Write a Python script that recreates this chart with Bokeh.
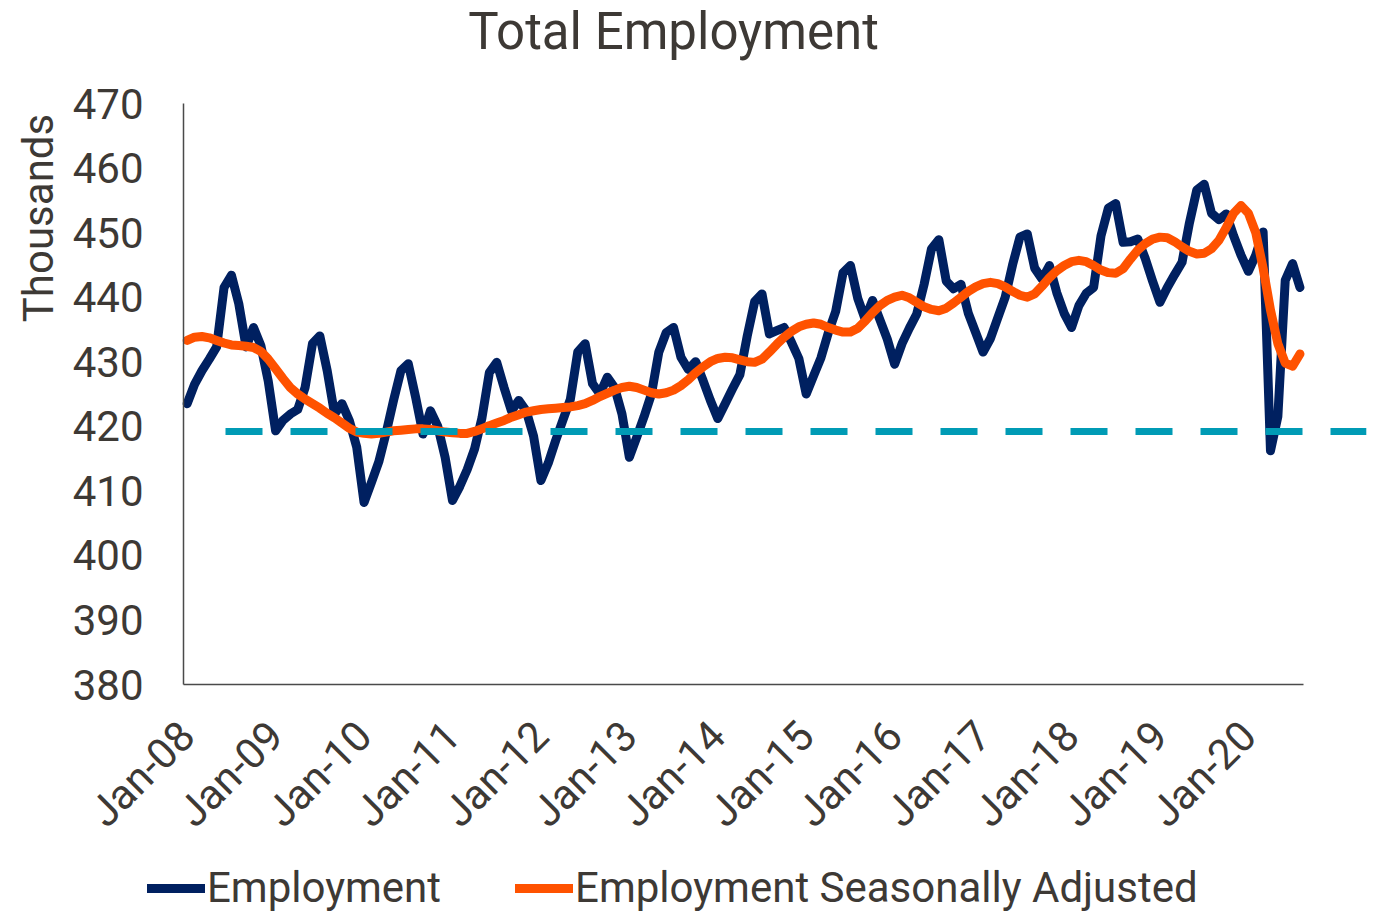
import math
from bokeh.plotting import figure
from bokeh.models import Range1d, FixedTicker, Legend, LegendItem, ColumnDataSource, Label
from bokeh.embed import file_html
from bokeh.resources import INLINE

# ---------------- data ----------------
tick_labels = ["Jan-08", "Jan-09", "Jan-10", "Jan-11", "Jan-12", "Jan-13", "Jan-14",
               "Jan-15", "Jan-16", "Jan-17", "Jan-18", "Jan-19", "Jan-20"]

employment = [
    423.5, 426.5, 428.6, 430.4, 432.3, 441.5, 443.4, 439.0, 432.3, 435.3, 432.5, 427.0,  # 2008
    419.3, 420.9, 421.9, 422.6, 426.0, 432.8, 434.0, 428.6, 421.9, 423.5, 420.9, 416.8,  # 2009
    408.2, 411.3, 414.5, 419.0, 424.0, 428.6, 429.7, 424.5, 418.8, 422.4, 420.0, 415.2,  # 2010
    408.5, 410.7, 413.3, 416.5, 421.3, 428.3, 429.9, 426.0, 422.4, 424.0, 422.4, 418.5,  # 2011
    411.6, 414.3, 417.8, 421.0, 424.2, 431.5, 432.8, 426.6, 425.0, 427.6, 426.0, 421.9,  # 2012
    415.2, 418.3, 421.5, 425.0, 431.5, 434.5, 435.3, 430.7, 428.8, 430.0, 427.1, 424.0,  # 2013
    421.2, 423.5, 425.8, 428.0, 434.0, 439.3, 440.5, 434.3, 434.8, 435.3, 433.0, 430.5,  # 2014
    425.0, 427.8, 430.6, 434.5, 437.8, 443.8, 444.9, 439.8, 436.6, 439.5, 436.5, 433.5,  # 2015
    429.6, 432.8, 435.2, 437.4, 442.0, 447.5, 448.9, 442.5, 441.3, 442.0, 437.5, 434.5,  # 2016
    431.5, 433.6, 436.8, 440.0, 445.0, 449.3, 449.8, 444.5, 442.8, 444.9, 440.7, 437.5,  # 2017
    435.3, 438.7, 440.6, 441.5, 449.5, 453.8, 454.5, 448.5, 448.6, 449.0, 446.0, 442.5,  # 2018
    439.2, 441.5, 443.5, 445.4, 451.5, 456.6, 457.5, 453.0, 452.0, 452.9, 449.5, 446.5,  # 2019
    444.0, 446.5, 450.1, 416.2, 421.5, 442.6, 445.2, 441.5,                              # 2020
]

employment_sa = [
    433.3, 433.8, 433.9, 433.7, 433.3, 432.9, 432.6, 432.5, 432.4, 432.2, 431.6, 430.4,  # 2008
    428.9, 427.4, 426.0, 425.0, 424.2, 423.5, 422.8, 422.0, 421.3, 420.5, 419.7, 419.1,  # 2009
    418.9, 418.8, 418.9, 419.1, 419.3, 419.4, 419.5, 419.6, 419.6, 419.5, 419.3, 419.1,  # 2010
    419.0, 418.9, 418.9, 419.2, 419.6, 420.1, 420.5, 420.9, 421.4, 421.8, 422.2, 422.4,  # 2011
    422.6, 422.7, 422.8, 422.9, 423.0, 423.2, 423.5, 424.0, 424.6, 425.1, 425.6, 426.0,  # 2012
    426.2, 426.0, 425.6, 425.2, 425.0, 425.2, 425.6, 426.3, 427.2, 428.3, 429.2, 430.0,  # 2013
    430.5, 430.7, 430.6, 430.3, 430.0, 429.9, 430.4, 431.5, 432.7, 433.8, 434.7, 435.4,  # 2014
    435.8, 436.0, 435.8, 435.3, 434.9, 434.6, 434.6, 435.2, 436.3, 437.6, 438.7, 439.5,  # 2015
    440.0, 440.3, 439.9, 439.2, 438.5, 438.1, 437.9, 438.3, 439.1, 440.0, 440.9, 441.6,  # 2016
    442.1, 442.3, 442.1, 441.6, 440.9, 440.3, 440.0, 440.5, 441.7, 443.0, 444.1, 444.9,  # 2017
    445.5, 445.7, 445.5, 444.9, 444.2, 443.8, 443.7, 444.4, 445.9, 447.3, 448.3, 449.0,  # 2018
    449.3, 449.2, 448.6, 447.8, 447.1, 446.7, 446.8, 447.5, 448.8, 450.8, 453.0, 454.2,  # 2019
    453.0, 450.0, 444.5, 438.0, 432.8, 429.8, 429.3, 431.2,                              # 2020
]

months = list(range(len(employment)))          # months since Jan-08
tick_months = [12 * k for k in range(len(tick_labels))]

ref_level = 419.2                              # dashed reference level (thousands)
ref_months = [5.2, 160.0]                      # extent of the reference line

# ---------------- layout / styling ----------------
FONT = "Roboto"
TXT = "#3D3935"
NAVY = "#002060"
ORANGE = "#FF5200"
TEAL = "#009BB5"
LW = 9

W, H = 1379, 913
# plot-area geometry (pixels): value axis at x=183, 470 at y=103, 380 at y=684
AX_L, AX_R_MONTH, Y_TOP, Y_BOT = 183, 160.3, 103, 684
px_per_month = (1368 - AX_L) / (AX_R_MONTH + 0.5)
px_per_unit = (Y_BOT - Y_TOP) / 90.0
x0 = -0.5 - AX_L / px_per_month
x1 = x0 + W / px_per_month
y1 = 470 + Y_TOP / px_per_unit
y0 = 380 - (H - Y_BOT) / px_per_unit

p = figure(width=W, height=H, output_backend="svg", toolbar_location=None, title=None,
           x_range=Range1d(x0, x1), y_range=Range1d(y0, y1),
           min_border_left=0, min_border_right=0, min_border_top=0, min_border_bottom=0)
p.outline_line_color = None
p.grid.visible = False
p.background_fill_color = "white"
p.border_fill_color = "white"

src = ColumnDataSource(dict(m=months, emp=employment, sa=employment_sa))
r_emp = p.line("m", "emp", source=src, line_color=NAVY, line_width=LW,
               line_join="round", line_cap="round")
r_sa = p.line("m", "sa", source=src, line_color=ORANGE, line_width=LW,
              line_join="round", line_cap="round")
p.line(ref_months, [ref_level, ref_level], line_color=TEAL, line_width=7, line_dash="37 28")

# x axis (drawn at 380)
xa = p.xaxis[0]
xa.fixed_location = 380
xa.bounds = (-0.5, 151.5)
xa.ticker = FixedTicker(ticks=tick_months)
xa.major_label_overrides = {m: lab for m, lab in zip(tick_months, tick_labels)}
xa.major_label_orientation = math.pi / 4
xa.major_label_text_font = FONT
xa.major_label_text_font_size = "42px"
xa.major_label_text_color = TXT
xa.major_label_standoff = 44
xa.major_tick_out = 0
xa.major_tick_in = 0
xa.minor_tick_out = 0
xa.minor_tick_in = 0
xa.major_tick_line_color = None
xa.minor_tick_line_color = None
xa.axis_line_color = "#4a4a4a"
xa.axis_line_width = 1.5

# y axis (drawn at the left edge of the plot area)
ya = p.yaxis[0]
ya.fixed_location = -0.5
ya.bounds = (380, 470)
ya.ticker = FixedTicker(ticks=list(range(380, 471, 10)))
ya.major_label_text_font = FONT
ya.major_label_text_font_size = "42px"
ya.major_label_text_color = TXT
ya.major_label_standoff = 40
ya.major_tick_out = 0
ya.major_tick_in = 0
ya.minor_tick_out = 0
ya.minor_tick_in = 0
ya.major_tick_line_color = None
ya.minor_tick_line_color = None
ya.axis_line_color = "#4a4a4a"
ya.axis_line_width = 1.5

# titles
p.add_layout(Label(x=x0 + 673 / px_per_month, y=y1 - 31 / px_per_unit,
                   text="Total Employment", text_font=FONT, text_font_size="51px",
                   text_color=TXT, text_align="center", text_baseline="alphabetic"))
p.add_layout(Label(x=x0 + 37.5 / px_per_month, y=y1 - 217.5 / px_per_unit,
                   text="Thousands", text_font=FONT, text_font_size="42px",
                   text_color=TXT, text_align="center", text_baseline="alphabetic",
                   angle=math.pi / 2))

legend = Legend(items=[LegendItem(label="Employment", renderers=[r_emp]),
                       LegendItem(label="Employment Seasonally Adjusted", renderers=[r_sa])],
                orientation="horizontal", location=(147, 1),
                label_text_font=FONT, label_text_font_size="42px", label_text_color=TXT,
                glyph_width=58, glyph_height=30, label_standoff=2, spacing=74,
                padding=0, margin=0, border_line_alpha=0, background_fill_alpha=0)
p.add_layout(legend, "center")

open("out.html", "w").write(file_html(p, INLINE))
